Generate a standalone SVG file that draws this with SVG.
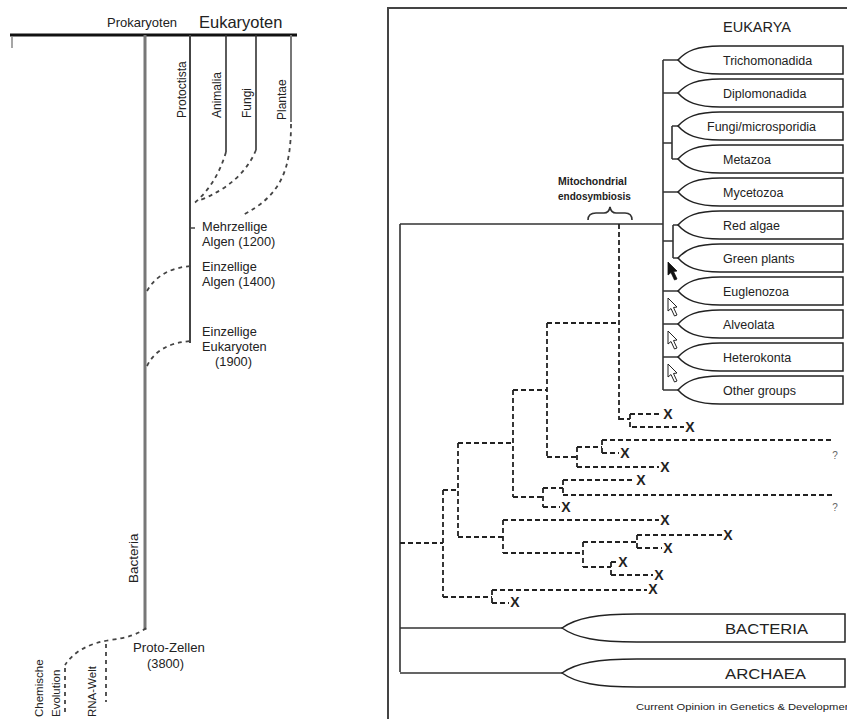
<svg xmlns="http://www.w3.org/2000/svg" xmlns:xlink="http://www.w3.org/1999/xlink" width="847" height="719" viewBox="0 0 847 719">
<style>
text{font-family:"Liberation Sans",Arial,sans-serif;fill:#222}
.lab{font-size:12.8px}
.rot{font-size:12px}
.row{font-size:12.5px}
.big{font-size:15px}
.x{font-size:14px;font-weight:bold;text-anchor:middle}
.q{font-size:10px;fill:#666;text-anchor:middle}
.solid{fill:none;stroke:#333;stroke-width:1.6}
.dash{fill:none;stroke:#222;stroke-width:1.8;stroke-dasharray:5 3}
.ldash{fill:none;stroke:#444;stroke-width:1.8;stroke-dasharray:4 4}
.lens{fill:#fff;stroke:#222;stroke-width:1.5}
</style>
<defs>
<path id="lens" d="M0,0 C8,-9 19,-14 42,-14 H165 V14 H42 C19,14 8,9 0,0 Z"/>
<path id="lensL" d="M0,0 C14,-10 35,-14 75,-14 H283 V14 H75 C35,14 14,10 0,0 Z"/>
<polygon id="cur" points="0,0 9,9 5.5,9.5 9,17 6.5,18 3,10.5 0,13"/>
</defs>
<rect width="847" height="719" fill="#fff"/>

<!-- LEFT PANEL -->
<g id="left-axis">
<line x1="10" y1="35" x2="297" y2="35" stroke="#111" stroke-width="3"/>
<line x1="12" y1="37" x2="12" y2="48" stroke="#888" stroke-width="1.5"/>
<text x="107" y="27" style="font-size:13px">Prokaryoten</text>
<text x="199" y="28" style="font-size:16.5px">Eukaryoten</text>
</g>
<g id="left-lines">
<line x1="145" y1="35" x2="145" y2="630" stroke="#777" stroke-width="3"/>
<line x1="190" y1="35" x2="190" y2="343" stroke="#444" stroke-width="2"/>
<line x1="226" y1="35" x2="226" y2="152" stroke="#333" stroke-width="1.6"/>
<line x1="256" y1="35" x2="256" y2="150" stroke="#333" stroke-width="1.6"/>
<line x1="291" y1="35" x2="291" y2="122" stroke="#777" stroke-width="2"/>
<line x1="190" y1="228" x2="195" y2="228" stroke="#444" stroke-width="1.5"/>
</g>
<g id="left-dashed">
<path class="ldash" d="M226,152 Q216,186 192,205"/>
<path class="ldash" d="M256,150 Q242,184 198,201"/>
<path class="ldash" d="M291,124 C291,170 281,196 241,216"/>
<path class="ldash" d="M147,291 Q160,268 192,266"/>
<path class="ldash" d="M147,366 Q158,343 192,341"/>
<path class="ldash" d="M146,628 Q135,637 110,640 Q78,645 65,665"/>
<line class="ldash" x1="65" y1="668" x2="65" y2="716"/>
<line class="ldash" x1="106" y1="644" x2="106" y2="702"/>
</g>
<g id="protoctista"><text class="rot" transform="translate(186,118) rotate(-90)">Protoctista</text></g>
<g id="animalia"><text class="rot" transform="translate(221,118) rotate(-90)">Animalia</text></g>
<g id="fungi"><text class="rot" transform="translate(251,118) rotate(-90)">Fungi</text></g>
<g id="plantae"><text class="rot" transform="translate(286,120) rotate(-90)">Plantae</text></g>
<g id="bacteria-l"><text transform="translate(138,583) rotate(-90)" style="font-size:13.5px">Bacteria</text></g>
<g id="mehrzellige">
<text class="lab" x="202" y="231">Mehrzellige</text>
<text class="lab" x="202" y="246">Algen (1200)</text>
</g>
<g id="einz-algen">
<text class="lab" x="202" y="271">Einzellige</text>
<text class="lab" x="202" y="286">Algen (1400)</text>
</g>
<g id="einz-euk">
<text class="lab" x="202" y="336">Einzellige</text>
<text class="lab" x="202" y="351">Eukaryoten</text>
<text class="lab" x="215" y="366">(1900)</text>
</g>
<g id="proto-zellen">
<text class="lab" x="133" y="652" style="font-size:13.2px">Proto-Zellen</text>
<text class="lab" x="147" y="668">(3800)</text>
</g>
<g id="chem-evol">
<text transform="translate(43,717) rotate(-90)" style="font-size:11.5px">Chemische</text>
<text transform="translate(60,717) rotate(-90)" style="font-size:11.5px">Evolution</text>
</g>
<g id="rna-welt"><text transform="translate(96,717) rotate(-90)" style="font-size:11.5px">RNA-Welt</text></g>

<!-- RIGHT PANEL -->
<g id="frame">
<polyline points="388,719 388,8 847,8" fill="none" stroke="#444" stroke-width="2"/>
</g>
<g id="connectors">
<path class="solid" d="M400,224 H663 M400,224 V672 M400,628 H562 M400,673 H562"/>
<path class="solid" d="M663,60 V390" stroke-width="2.2" stroke="#555"/>
<path class="solid" d="M663,60 H678 M663,93 H678 M663,143 H672 M672,126 V159 M672,126 H678 M672,159 H678 M663,192 H678 M663,241 H673 M673,225 V258 M673,225 H678 M673,258 H678 M663,291 H678 M663,324 H678 M663,357 H678 M663,390 H678"/>
<path class="solid" d="M588,220 Q588,213 596,213 H604 Q609,213 610,207 Q611,213 616,213 H625 Q632,213 632,220" stroke-width="1.3"/>
<g id="dashed-tree">
<path class="dash" d="M619,224 V420 M547,323 H619 M547,323 V457 M513,390 H547 M513,390 V497 M458,443 H513 M458,443 V537 M443,490 H458 M443,490 V597 M400,543 H443"/>
<path class="dash" d="M619,419 H630 M630,414 V427 M630,414 H662 M632,427 H684"/>
<path class="dash" d="M547,457 H577 M577,447 V467 M577,447 H602 M602,440 V453 M602,440 H832 M602,453 H619 M577,467 H659"/>
<path class="dash" d="M513,497 H543 M543,488 V507 M543,488 H563 M563,480 V495 M563,480 H635 M563,495 H832 M543,507 H560"/>
<path class="dash" d="M458,537 H503 M503,520 V553 M503,520 H659 M503,553 H583 M583,542 V567 M583,542 H637 M637,535 V548 M637,535 H722 M637,548 H662 M583,567 H611 M611,562 V575 M611,562 H618 M611,575 H653"/>
<path class="dash" d="M443,597 H492 M492,590 V603 M492,590 H647 M492,603 H509"/>
</g>
</g>
<g id="extinct">
<text class="x" x="668" y="419">X</text>
<text class="x" x="690" y="432">X</text>
<text class="x" x="625" y="458">X</text>
<text class="x" x="665" y="472">X</text>
<text class="x" x="641" y="485">X</text>
<text class="x" x="566" y="512">X</text>
<text class="x" x="665" y="525">X</text>
<text class="x" x="728" y="540">X</text>
<text class="x" x="668" y="553">X</text>
<text class="x" x="623" y="567">X</text>
<text class="x" x="659" y="580">X</text>
<text class="x" x="653" y="594">X</text>
<text class="x" x="515" y="607">X</text>
<text class="q" x="835" y="459">?</text>
<text class="q" x="835" y="511">?</text>
</g>
<g id="mito">
<text x="558" y="185" style="font-size:10.5px;font-weight:bold">Mitochondrial</text>
<text x="558" y="200" style="font-size:10px;font-weight:bold">endosymbiosis</text>
</g>
<g id="eukarya"><text x="723" y="32" style="font-size:14.5px">EUKARYA</text></g>
<g id="trichomonadida"><use xlink:href="#lens" class="lens" x="678" y="60"/><text class="row" x="723" y="64.5">Trichomonadida</text></g>
<g id="diplomonadida"><use xlink:href="#lens" class="lens" x="678" y="93"/><text class="row" x="723" y="97.5">Diplomonadida</text></g>
<g id="fungi-micro"><use xlink:href="#lens" class="lens" x="678" y="126"/><text class="row" x="707" y="130.5">Fungi/microsporidia</text></g>
<g id="metazoa"><use xlink:href="#lens" class="lens" x="678" y="159"/><text class="row" x="723" y="163.5">Metazoa</text></g>
<g id="mycetozoa"><use xlink:href="#lens" class="lens" x="678" y="192"/><text class="row" x="723" y="196.5">Mycetozoa</text></g>
<g id="red-algae"><use xlink:href="#lens" class="lens" x="678" y="225"/><text class="row" x="723" y="229.5">Red algae</text></g>
<g id="green-plants"><use xlink:href="#lens" class="lens" x="678" y="258"/><text class="row" x="723" y="262.5">Green plants</text></g>
<g id="euglenozoa"><use xlink:href="#lens" class="lens" x="678" y="291"/><text class="row" x="723" y="295.5">Euglenozoa</text></g>
<g id="alveolata"><use xlink:href="#lens" class="lens" x="678" y="324"/><text class="row" x="723" y="328.5">Alveolata</text></g>
<g id="heterokonta"><use xlink:href="#lens" class="lens" x="678" y="357"/><text class="row" x="723" y="361.5">Heterokonta</text></g>
<g id="other-groups"><use xlink:href="#lens" class="lens" x="678" y="390"/><text class="row" x="723" y="394.5">Other groups</text></g>
<g id="arrows">
<use xlink:href="#cur" x="668" y="262" fill="#111" stroke="#111" stroke-width="0.8"/>
<use xlink:href="#cur" x="668" y="298" fill="#fff" stroke="#222" stroke-width="1"/>
<use xlink:href="#cur" x="668" y="331" fill="#fff" stroke="#222" stroke-width="1"/>
<use xlink:href="#cur" x="668" y="364" fill="#fff" stroke="#222" stroke-width="1"/>
</g>
<g id="bacteria"><use xlink:href="#lensL" class="lens" x="562" y="628"/><text class="big" x="725" y="634" textLength="83" lengthAdjust="spacingAndGlyphs">BACTERIA</text></g>
<g id="archaea"><use xlink:href="#lensL" class="lens" x="562" y="673"/><text class="big" x="725" y="679" textLength="81" lengthAdjust="spacingAndGlyphs">ARCHAEA</text></g>
<g id="credit"><text x="636" y="710" style="font-size:9.5px" textLength="218" lengthAdjust="spacingAndGlyphs">Current Opinion in Genetics &amp; Development</text></g>
</svg>
